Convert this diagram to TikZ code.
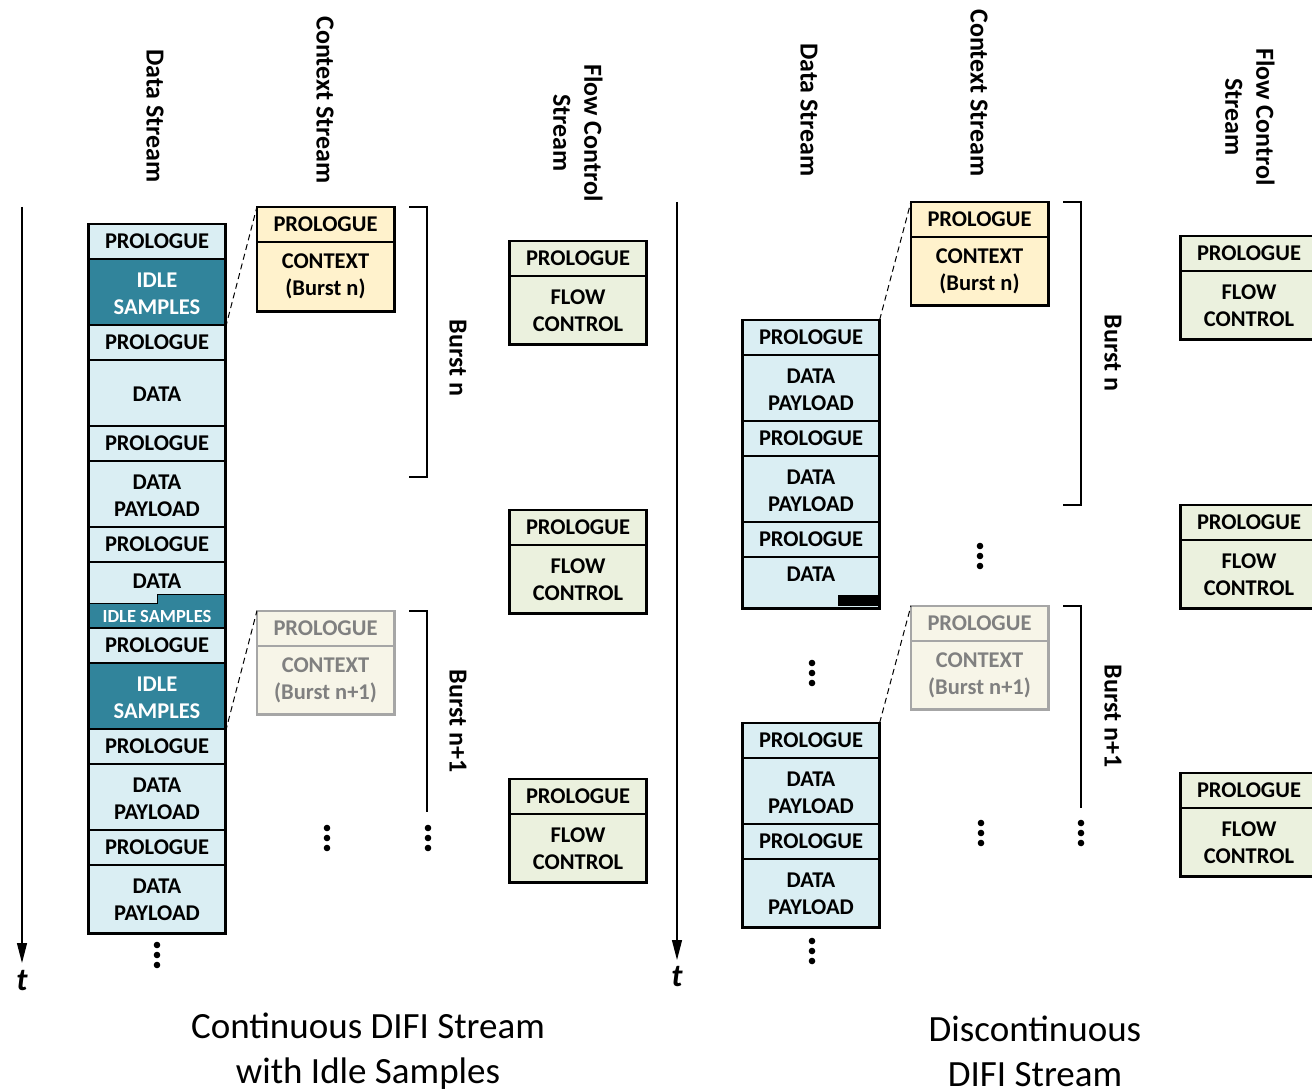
\documentclass[tikz,border=0pt]{standalone}
\usepackage{fontspec}
\setmainfont{Carlito}
\usetikzlibrary{arrows.meta}

\definecolor{dblue}{HTML}{DAEEF3}
\definecolor{idleteal}{HTML}{31849B}
\definecolor{ctxfill}{HTML}{FFF2CC}
\definecolor{fcfill}{HTML}{EBF1DE}
\definecolor{fadefill}{HTML}{F7F5E8}
\definecolor{fadeline}{HTML}{A6A6A6}
\definecolor{fadetext}{HTML}{808080}

\newcommand\boxfont{\bfseries\fontsize{22.5}{27}\selectfont}
\newcommand\headfont{\bfseries\fontsize{26}{31}\selectfont}

% one packet: prologue on top of a body
% #1 name, #2 prologue style, #3 centre x, #4 top y, #5 body style, #6 body height, #7 body text
\newcommand\drawpkt[7]{%
  \node[seg,#2,minimum height=34pt] (#1p) at (#3,#4) {PROLOGUE};
  \node[seg,#5,minimum height=#6] (#1b) at (#1p.south) {#7};
  \draw[#2,outline] (#1p.north west) rectangle (#1b.south east);
}
% three stacked dots
\newcommand\dotsat[2]{\foreach \k in {-10,0,10} \fill (#1,#2+\k) circle (3.3pt);}

\begin{document}
\begin{tikzpicture}[x=1pt,y=-1pt,
  seg/.style={draw, line width=1.2pt, minimum width=136pt, inner sep=0pt,
    align=center, anchor=north, font=\boxfont},
  datah/.style={fill=dblue},
  idleb/.style={fill=idleteal, text=white},
  ctxh/.style={fill=ctxfill},
  fch/.style={fill=fcfill},
  fadeh/.style={fill=fadefill, draw=fadeline, text=fadetext},
  outline/.style={fill=none, line width=2.8pt},
  head/.style={rotate=-90, align=center, font=\headfont},
  burst/.style={rotate=-90, font=\bfseries\fontsize{26}{30}\selectfont},
  brk/.style={line width=1.5pt},
  link/.style={line width=1pt, dash pattern=on 6pt off 4pt},
  timeax/.style={line width=1.3pt, -{Triangle[length=20pt,width=10pt]}},
  tlabel/.style={font=\bfseries\itshape\fontsize{32}{34}\selectfont},
  caption/.style={align=center, font=\fontsize{37}{45}\selectfont}]

\useasboundingbox (0,0) rectangle (1312,1091);
\clip (0,0) rectangle (1312,1091);

% ---------------- continuous stream ----------------
\node[head] (hdata1) at (155,116) {Data Stream};
\node[head] (hctx1) at (325,100) {Context Stream};
\node[head] (hfc1) at (578,133) {Flow Control\\Stream};

\coordinate (ta0) at (22,207);
\coordinate (ta1) at (22,963);
\draw[timeax] (ta0) -- (ta1);
\node[tlabel] (tA) at (22,981) {t};

% data column
\drawpkt{L1}{datah}{157}{224}{idleb}{67pt}{IDLE\\SAMPLES}
\drawpkt{L2}{datah}{157}{325}{datah}{67pt}{DATA}
\drawpkt{L3}{datah}{157}{426}{datah}{67pt}{DATA\\PAYLOAD}
\drawpkt{L4}{datah}{157}{527}{datah}{67pt}{}
\fill[idleteal] (89,603) -- (157,603) -- (157,594) -- (225,594) -- (225,628) -- (89,628) -- cycle;
\draw[line width=1pt] (89,603) -- (157,603) -- (157,594) -- (225,594);
\draw[datah,outline] (L4p.north west) rectangle (L4b.south east);
\node[font=\boxfont] (L4data) at (157,581) {DATA};
\node[font=\bfseries\fontsize{18.5}{20}\selectfont, text=white] (L4idle) at (157,616) {IDLE SAMPLES};
\drawpkt{L5}{datah}{157}{628}{idleb}{67pt}{IDLE\\SAMPLES}
\drawpkt{L6}{datah}{157}{729}{datah}{67pt}{DATA\\PAYLOAD}
\drawpkt{L7}{datah}{157}{830}{datah}{67pt}{DATA\\PAYLOAD}
\dotsat{157}{955}

% context column
\drawpkt{C1}{ctxh}{325.5}{207}{ctxh}{68pt}{CONTEXT\\(Burst n)}
\drawpkt{C2}{fadeh}{325.5}{611}{fadeh}{67pt}{CONTEXT\\(Burst n+1)}
\draw[link] (L1b.south east) -- (C1p.north west);
\draw[link] (L5b.south east) -- (C2p.north west);
\dotsat{327}{838}

% bursts
\coordinate (bA1) at (409,207);
\coordinate (bA2) at (427,207);
\coordinate (bA3) at (427,477);
\coordinate (bA4) at (409,477);
\draw[brk] (bA1) -- (bA2) -- (bA3) -- (bA4);
\node[burst] (burstA) at (458,358) {Burst n};
\coordinate (bB1) at (409,611);
\coordinate (bB2) at (427,611);
\coordinate (bB3) at (427,812);
\draw[brk] (bB1) -- (bB2) -- (bB3);
\node[burst] (burstB) at (458,721) {Burst n+1};
\dotsat{428}{838}

% flow control column
\drawpkt{F1}{fch}{578}{241}{fch}{67pt}{FLOW\\CONTROL}
\drawpkt{F2}{fch}{578}{510}{fch}{67pt}{FLOW\\CONTROL}
\drawpkt{F3}{fch}{578}{779}{fch}{67pt}{FLOW\\CONTROL}

\node[caption] (capA) at (368,1051) {Continuous DIFI Stream\\with Idle Samples};

% ---------------- discontinuous stream ----------------
\node[head] (hdata2) at (809,110) {Data Stream};
\node[head] (hctx2) at (979,93) {Context Stream};
\node[head] (hfc2) at (1250,117) {Flow Control\\Stream};

\coordinate (tb0) at (677,202);
\coordinate (tb1) at (677,960);
\draw[timeax] (tb0) -- (tb1);
\node[tlabel] (tB) at (677,977) {t};

% data column
\drawpkt{R1}{datah}{811}{320}{datah}{67pt}{DATA\\PAYLOAD}
\drawpkt{R2}{datah}{811}{421}{datah}{67pt}{DATA\\PAYLOAD}
\drawpkt{R3}{datah}{811}{522}{datah}{50pt}{DATA\\[-10pt]\mbox{}}
\fill (838,595) rectangle (879,606);
\draw[datah,outline] (R3p.north west) rectangle (R3b.south east);
\dotsat{812}{673}
\drawpkt{R4}{datah}{811}{723}{datah}{67pt}{DATA\\PAYLOAD}
\drawpkt{R5}{datah}{811}{824}{datah}{67pt}{DATA\\PAYLOAD}
\dotsat{812}{951}

% context column
\drawpkt{C3}{ctxh}{979.5}{202}{ctxh}{67pt}{CONTEXT\\(Burst n)}
\drawpkt{C4}{fadeh}{979.5}{606}{fadeh}{67pt}{CONTEXT\\(Burst n+1)}
\draw[link] (R1p.north east) -- (C3p.north west);
\draw[link] (R4p.north east) -- (C4p.north west);
\dotsat{980}{556}
\dotsat{981}{833}

% bursts
\coordinate (bC1) at (1063,202);
\coordinate (bC2) at (1081,202);
\coordinate (bC3) at (1081,505);
\coordinate (bC4) at (1063,505);
\draw[brk] (bC1) -- (bC2) -- (bC3) -- (bC4);
\node[burst] (burstC) at (1113,353) {Burst n};
\coordinate (bD1) at (1063,606);
\coordinate (bD2) at (1081,606);
\coordinate (bD3) at (1081,808);
\draw[brk] (bD1) -- (bD2) -- (bD3);
\node[burst] (burstD) at (1113,716) {Burst n+1};
\dotsat{1081}{833}

% flow control column
\drawpkt{F4}{fch}{1249}{236}{fch}{67pt}{FLOW\\CONTROL}
\drawpkt{F5}{fch}{1249}{505}{fch}{67pt}{FLOW\\CONTROL}
\drawpkt{F6}{fch}{1249}{773}{fch}{67pt}{FLOW\\CONTROL}

\node[caption] (capB) at (1035,1051) {Discontinuous\\DIFI Stream};
\end{tikzpicture}
\end{document}
